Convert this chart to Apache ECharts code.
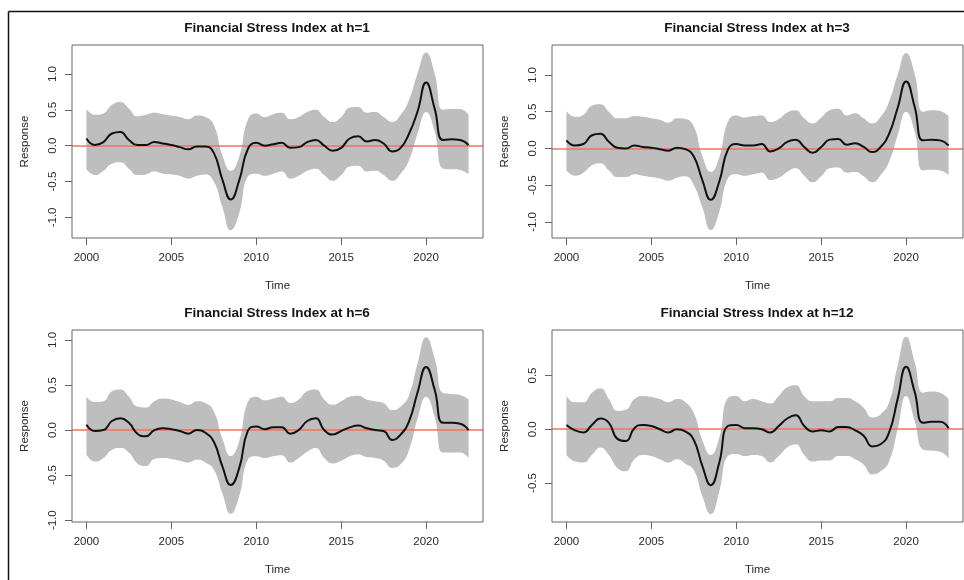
<!DOCTYPE html>
<html>
<head>
<meta charset="utf-8">
<script src="https://cdn.jsdelivr.net/npm/echarts@6/dist/echarts.min.js"></script>
<style>
  html, body { margin: 0; padding: 0; background: #fff; }
  #chart { width: 964px; height: 580px; }
</style>
</head>
<body>
<div id="chart"></div>
<script>
// Time points (half-year steps)
const years = [2000, 2000.5, 2001, 2001.5, 2002, 2002.5, 2003, 2003.5, 2004, 2004.5,
  2005, 2005.5, 2006, 2006.5, 2007, 2007.5, 2008, 2008.5, 2009, 2009.5,
  2010, 2010.5, 2011, 2011.5, 2012, 2012.5, 2013, 2013.5, 2014, 2014.5,
  2015, 2015.5, 2016, 2016.5, 2017, 2017.5, 2018, 2018.5, 2019, 2019.5,
  2020, 2020.5, 2021, 2021.5, 2022, 2022.5];

// Tick labels
const xTicks = [2000, 2005, 2010, 2015, 2020];
const yTicksWide = [-1, -0.5, 0, 0.5, 1];
const yTicksNarrow = [-0.5, 0, 0.5];

// Horizon h=1
const h1Mid = [0.10, 0.01, 0.05, 0.17, 0.19, 0.08, 0.01, 0.01, 0.05, 0.03,
  0.01, -0.02, -0.05, -0.01, -0.01, -0.10, -0.47, -0.75, -0.48, -0.05,
  0.04, 0.00, 0.02, 0.04, -0.03, -0.02, 0.05, 0.08, 0.00, -0.07,
  -0.03, 0.10, 0.13, 0.06, 0.08, 0.03, -0.08, -0.03, 0.17, 0.48,
  0.88, 0.52, 0.08, 0.09, 0.08, 0.01];
const h1Upper = [0.51, 0.43, 0.45, 0.57, 0.61, 0.52, 0.41, 0.43, 0.46, 0.44,
  0.42, 0.40, 0.37, 0.42, 0.40, 0.29, -0.13, -0.35, -0.15, 0.36,
  0.45, 0.40, 0.44, 0.46, 0.37, 0.40, 0.47, 0.50, 0.40, 0.33,
  0.40, 0.53, 0.54, 0.46, 0.47, 0.40, 0.33, 0.43, 0.64, 1.01,
  1.30, 1.01, 0.50, 0.51, 0.51, 0.43];
const h1Lower = [-0.33, -0.41, -0.35, -0.25, -0.23, -0.32, -0.41, -0.40, -0.36, -0.39,
  -0.40, -0.42, -0.46, -0.42, -0.40, -0.50, -0.85, -1.18, -0.94, -0.43,
  -0.39, -0.42, -0.39, -0.36, -0.46, -0.42, -0.35, -0.32, -0.41, -0.49,
  -0.41, -0.29, -0.28, -0.36, -0.35, -0.41, -0.49, -0.39, -0.20, 0.17,
  0.47, 0.20, -0.32, -0.33, -0.34, -0.40];

// Horizon h=3
const h3Mid = [0.11, 0.04, 0.06, 0.18, 0.20, 0.09, 0.01, 0.00, 0.04, 0.02,
  0.01, -0.01, -0.03, 0.01, -0.01, -0.11, -0.43, -0.70, -0.45, -0.02,
  0.06, 0.04, 0.04, 0.06, -0.04, 0.00, 0.09, 0.12, 0.02, -0.06,
  0.02, 0.12, 0.13, 0.05, 0.07, 0.02, -0.05, 0.02, 0.20, 0.55,
  0.91, 0.57, 0.11, 0.12, 0.11, 0.04];
const h3Upper = [0.51, 0.43, 0.46, 0.58, 0.60, 0.50, 0.41, 0.41, 0.44, 0.43,
  0.41, 0.39, 0.35, 0.41, 0.40, 0.30, -0.10, -0.32, -0.12, 0.36,
  0.45, 0.42, 0.44, 0.45, 0.36, 0.40, 0.49, 0.52, 0.41, 0.34,
  0.42, 0.52, 0.54, 0.45, 0.48, 0.41, 0.34, 0.43, 0.64, 1.00,
  1.30, 1.02, 0.50, 0.52, 0.51, 0.44];
const h3Lower = [-0.30, -0.37, -0.33, -0.23, -0.20, -0.30, -0.39, -0.39, -0.35, -0.37,
  -0.39, -0.41, -0.44, -0.40, -0.38, -0.50, -0.80, -1.11, -0.86, -0.41,
  -0.35, -0.37, -0.35, -0.33, -0.43, -0.40, -0.32, -0.27, -0.37, -0.46,
  -0.38, -0.27, -0.26, -0.33, -0.32, -0.38, -0.46, -0.36, -0.18, 0.18,
  0.50, 0.23, -0.30, -0.29, -0.30, -0.36];

// Horizon h=6
const h6Mid = [0.06, -0.01, 0.00, 0.10, 0.13, 0.08, -0.04, -0.07, 0.00, 0.02,
  0.01, -0.01, -0.04, 0.00, -0.03, -0.13, -0.40, -0.61, -0.42, -0.01,
  0.04, 0.01, 0.03, 0.03, -0.04, 0.00, 0.10, 0.13, 0.00, -0.05,
  -0.01, 0.03, 0.05, 0.02, 0.00, -0.01, -0.11, -0.05, 0.10, 0.42,
  0.70, 0.45, 0.08, 0.08, 0.07, 0.00];
const h6Upper = [0.37, 0.31, 0.32, 0.43, 0.45, 0.37, 0.26, 0.25, 0.32, 0.35,
  0.34, 0.31, 0.28, 0.32, 0.30, 0.21, -0.09, -0.29, -0.12, 0.31,
  0.37, 0.33, 0.35, 0.37, 0.30, 0.34, 0.43, 0.45, 0.34, 0.28,
  0.32, 0.37, 0.38, 0.34, 0.32, 0.30, 0.22, 0.26, 0.39, 0.74,
  1.03, 0.80, 0.41, 0.40, 0.39, 0.34];
const h6Lower = [-0.27, -0.35, -0.31, -0.22, -0.20, -0.25, -0.37, -0.40, -0.32, -0.31,
  -0.32, -0.34, -0.36, -0.33, -0.36, -0.44, -0.70, -0.93, -0.73, -0.33,
  -0.29, -0.31, -0.29, -0.28, -0.36, -0.31, -0.24, -0.20, -0.31, -0.37,
  -0.34, -0.29, -0.27, -0.30, -0.31, -0.34, -0.42, -0.38, -0.22, 0.13,
  0.37, 0.15, -0.25, -0.25, -0.25, -0.31];

// Horizon h=12
const h12Mid = [0.04, -0.01, -0.03, 0.04, 0.10, 0.06, -0.09, -0.11, 0.01, 0.04,
  0.03, 0.00, -0.03, 0.00, -0.02, -0.10, -0.34, -0.52, -0.31, 0.03,
  0.04, 0.01, 0.01, 0.00, -0.03, 0.03, 0.10, 0.13, 0.03, -0.02,
  -0.01, -0.02, 0.02, 0.02, -0.01, -0.06, -0.16, -0.14, -0.03, 0.28,
  0.58, 0.35, 0.06, 0.07, 0.07, 0.01];
const h12Upper = [0.31, 0.25, 0.25, 0.34, 0.38, 0.28, 0.17, 0.18, 0.28, 0.31,
  0.30, 0.28, 0.25, 0.28, 0.25, 0.15, -0.10, -0.24, -0.08, 0.29,
  0.31, 0.26, 0.28, 0.26, 0.24, 0.31, 0.39, 0.41, 0.31, 0.26,
  0.26, 0.26, 0.29, 0.29, 0.26, 0.20, 0.11, 0.14, 0.25, 0.59,
  0.86, 0.63, 0.34, 0.35, 0.34, 0.28];
const h12Lower = [-0.24, -0.30, -0.31, -0.24, -0.17, -0.24, -0.36, -0.39, -0.28, -0.24,
  -0.25, -0.28, -0.31, -0.28, -0.32, -0.38, -0.62, -0.79, -0.58, -0.25,
  -0.23, -0.25, -0.24, -0.25, -0.31, -0.25, -0.17, -0.14, -0.24, -0.30,
  -0.29, -0.29, -0.25, -0.25, -0.28, -0.33, -0.42, -0.39, -0.30, 0.00,
  0.31, 0.08, -0.19, -0.20, -0.21, -0.27];

const panels = [
  { title: 'Financial Stress Index at h=1', mid: h1Mid, upper: h1Upper, lower: h1Lower, yTicks: yTicksWide, yMin: -1.287, yMax: 1.404 },
  { title: 'Financial Stress Index at h=3', mid: h3Mid, upper: h3Upper, lower: h3Lower, yTicks: yTicksWide, yMin: -1.219, yMax: 1.408 },
  { title: 'Financial Stress Index at h=6', mid: h6Mid, upper: h6Upper, lower: h6Lower, yTicks: yTicksWide, yMin: -1.02, yMax: 1.11 },
  { title: 'Financial Stress Index at h=12', mid: h12Mid, upper: h12Upper, lower: h12Lower, yTicks: yTicksNarrow, yMin: -0.863, yMax: 0.923 }
];

// Plot-region rectangles and title anchors for the 2x2 layout
const frames = [
  { left: 72, top: 45, width: 411, height: 193, titleX: 277, titleY: 21 },
  { left: 552, top: 45, width: 411, height: 193, titleX: 757, titleY: 21 },
  { left: 72, top: 330, width: 411, height: 192, titleX: 277, titleY: 306 },
  { left: 552, top: 330, width: 411, height: 192, titleX: 757, titleY: 306 }
];

const FONT = '"Liberation Sans", Arial, Helvetica, sans-serif';
const TEXT = '#2a2a2a';
const BOX = '#666';

// Rows are [value, year]; encode maps column 1 to x and column 0 to y,
// so the stacked dimension is the response value.
const rows = (vals) => years.map((x, k) => [vals[k], x]);
const widths = (up, lo) => up.map((u, k) => +(u - lo[k]).toFixed(4));

const option = {
  animation: false,
  backgroundColor: '#fff',
  textStyle: { fontFamily: FONT },
  title: panels.map((p, i) => ({
    text: p.title,
    left: frames[i].titleX,
    top: frames[i].titleY,
    textAlign: 'center',
    padding: 0,
    textStyle: { fontFamily: FONT, fontSize: 13.5, fontWeight: 'bold', color: '#141414' }
  })),
  grid: frames.map(f => ({
    left: f.left, top: f.top, width: f.width, height: f.height,
    show: true, z: 10,
    backgroundColor: 'transparent',
    borderColor: BOX, borderWidth: 1,
    containLabel: false
  })),
  xAxis: panels.map((p, i) => ({
    type: 'value', gridIndex: i,
    min: 1999.15, max: 2023.35,
    axisLine: { show: false, onZero: false },
    splitLine: { show: false },
    axisTick: { show: true, length: 7, inside: false, customValues: xTicks, lineStyle: { color: BOX } },
    axisLabel: {
      customValues: xTicks, margin: 14, fontSize: 11.5, color: TEXT, fontFamily: FONT,
      formatter: v => String(v)
    },
    name: 'Time', nameLocation: 'middle', nameGap: 42,
    nameTextStyle: { fontSize: 11.5, color: TEXT, fontFamily: FONT }
  })),
  yAxis: panels.map((p, i) => ({
    type: 'value', gridIndex: i,
    min: p.yMin, max: p.yMax,
    axisLine: { show: false, onZero: false },
    splitLine: { show: false },
    axisTick: { show: true, length: 7, inside: false, customValues: p.yTicks, lineStyle: { color: BOX } },
    axisLabel: {
      customValues: p.yTicks, rotate: 90, margin: 13,
      fontSize: 11.5, color: TEXT, fontFamily: FONT,
      formatter: v => Number(v).toFixed(1)
    },
    name: 'Response', nameLocation: 'middle', nameGap: 41, nameRotate: 90,
    nameTextStyle: { fontSize: 11.5, color: TEXT, fontFamily: FONT }
  })),
  series: [],
  graphic: {
    elements: [
      { type: 'line', silent: true, shape: { x1: 8.5, y1: 11.5, x2: 964, y2: 11.5 }, style: { stroke: '#111', lineWidth: 1.5 } },
      { type: 'line', silent: true, shape: { x1: 8.5, y1: 11.5, x2: 8.5, y2: 580 }, style: { stroke: '#111', lineWidth: 1.5 } }
    ]
  }
};

panels.forEach((p, i) => {
  const stackId = 'band' + i;
  // Lower bound of the confidence band (invisible base of the stack)
  option.series.push({
    type: 'line', xAxisIndex: i, yAxisIndex: i,
    data: rows(p.lower), encode: { x: 1, y: 0 },
    stack: stackId, stackStrategy: 'all',
    smooth: true, symbol: 'none', silent: true, z: 1,
    lineStyle: { width: 0, opacity: 0 }
  });
  // Band width stacked on top of the lower bound, filled grey
  option.series.push({
    type: 'line', xAxisIndex: i, yAxisIndex: i,
    data: rows(widths(p.upper, p.lower)), encode: { x: 1, y: 0 },
    stack: stackId, stackStrategy: 'all',
    smooth: true, symbol: 'none', silent: true, z: 1,
    lineStyle: { width: 0, opacity: 0 },
    areaStyle: { color: '#bebebe', opacity: 1 }
  });
  // Point response with the zero reference line
  option.series.push({
    type: 'line', xAxisIndex: i, yAxisIndex: i,
    data: rows(p.mid), encode: { x: 1, y: 0 },
    smooth: true, symbol: 'none', silent: true, z: 6,
    lineStyle: { color: '#111', width: 2 },
    markLine: {
      silent: true, symbol: ['none', 'none'], label: { show: false },
      lineStyle: { color: '#f2705f', width: 1.5, type: 'solid' },
      data: [{ yAxis: 0 }]
    }
  });
});

const chart = echarts.init(document.getElementById('chart'), null, { renderer: 'canvas' });
chart.setOption(option);
</script>
</body>
</html>
